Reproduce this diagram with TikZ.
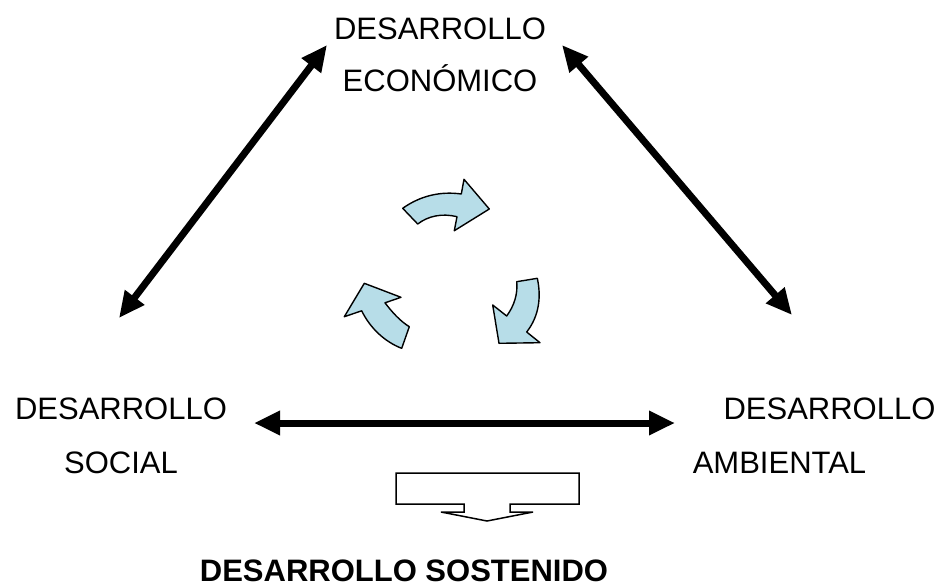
\documentclass[tikz,border=0pt]{standalone}
\usepackage{fontspec}
\setmainfont{Liberation Sans}
\usepackage{tikz}
\usetikzlibrary{arrows.meta}
\definecolor{cyclefill}{RGB}{183,221,232}
\tikzset{twoway/.style = {line width=7pt,
                          {Triangle[length=26pt,width=23pt]}-{Triangle[length=26pt,width=23pt]}},
         label/.style = {anchor = base, inner sep=0pt, font=\fontsize{31}{37}\selectfont},
         cycle/.style = {draw=black, line width=1.4pt, fill=cyclefill, line join=round}}

\begin{document}
\begin{tikzpicture}[x=1pt, y=-1pt]
      \useasboundingbox (0, 0) rectangle (943, 587);

      \node [label] (eco1) at (440, 39) {DESARROLLO};
      \node [label] (eco2) at (440, 91) {ECONÓMICO};
      \node [label] (soc1) at (121, 419) {DESARROLLO};
      \node [label] (soc2) at (121, 473) {SOCIAL};
      \node [label] (amb1) at (829.5, 419) {DESARROLLO};
      \node [label] (amb2) at (779.5, 473) {AMBIENTAL};
      \node [label, font=\fontsize{31}{37}\selectfont\bfseries] (sost) at (404, 581) {DESARROLLO SOSTENIDO};

      \coordinate (ecoL) at (327, 45);
      \coordinate (ecoR) at (562, 45);
      \coordinate (socT) at (119, 318);
      \coordinate (socR) at (254, 423);
      \coordinate (ambT) at (792, 315);
      \coordinate (ambL) at (675, 423);

      \draw [twoway] (socT) -- (ecoL);
      \draw [twoway] (ecoR) -- (ambT);
      \draw [twoway] (socR) -- (ambL);

      \path [cycle] (402.7, 208.3) .. controls (420, 196) and (440, 191) .. (461.3, 194) --
        (464, 179.3) -- (489.3, 209) -- (454.3, 230.7) --
        (457, 216.7) .. controls (442, 213) and (428, 216) .. (417.7, 224) -- cycle;
      \path [cycle] (537.3, 278.3) .. controls (541, 295) and (540, 315) .. (526.7, 332) --
        (540, 342.7) -- (499, 343.3) -- (492.7, 305) --
        (506.7, 316) .. controls (514, 306) and (518, 294) .. (516.7, 281.7) -- cycle;
      \path [cycle] (364.3, 283.3) -- (401, 297.3) --
        (385, 302.8) .. controls (392, 312) and (400, 321) .. (409.3, 326.7) --
        (401.7, 348.3) .. controls (385, 342) and (370, 328) .. (361.7, 310.8) --
        (344.3, 316.7) -- cycle;

      \draw [line width=1.5pt, line join=miter, fill=white] (396, 473) -- (579, 473) -- (579, 504) --
        (510, 504) -- (510, 512) -- (533, 512) -- (487, 521) -- (441, 512) --
        (464, 512) -- (464, 504) -- (396, 504) -- cycle;

    \end{tikzpicture}
\end{document}
